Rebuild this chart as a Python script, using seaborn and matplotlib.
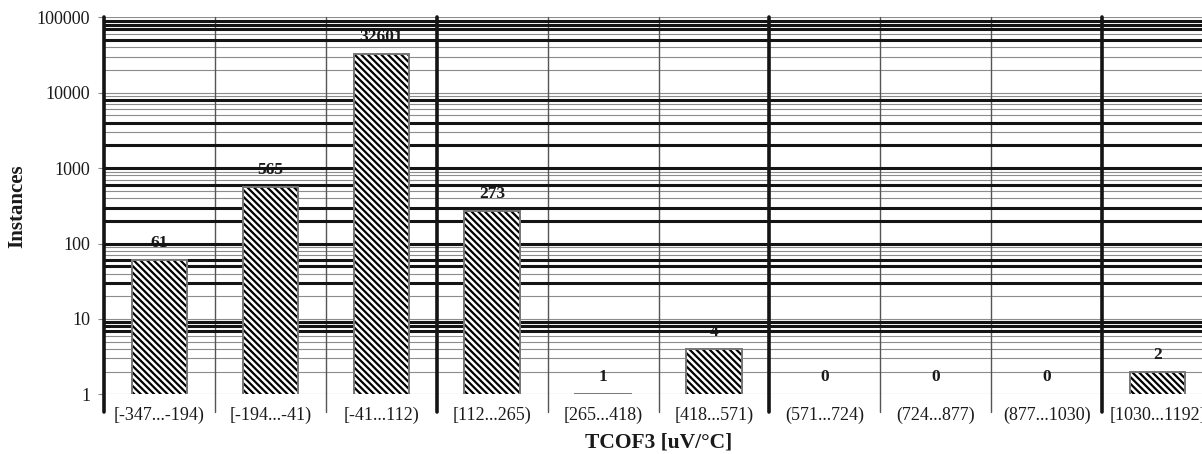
import numpy as np
import pandas as pd
import matplotlib
matplotlib.use("Agg")
import matplotlib.pyplot as plt
import seaborn as sns
from matplotlib.ticker import FixedLocator, FuncFormatter, LogLocator

# Histogram of TCOF3 values per temperature-coefficient bin
categories = ["[-347...-194)", "[-194...-41)", "[-41...112)", "[112...265)",
              "[265...418)", "[418...571)", "(571...724)", "(724...877)",
              "(877...1030)", "[1030...1192]"]
counts = [61, 565, 32601, 273, 1, 4, 0, 0, 0, 2]
y_ticks = [1, 10, 100, 1000, 10000, 100000]

# Emphasised horizontal rules and heavy category separators
heavy_levels = [7, 8, 9, 30, 50, 60, 100, 200, 300, 600, 1000, 2000, 4000,
                8000, 50000, 70000, 80000, 90000]
heavy_bounds = [0, 3, 6, 9]

sns.set_theme(style="white")
plt.rcParams["font.family"] = ["Liberation Serif", "DejaVu Serif"]
plt.rcParams["hatch.linewidth"] = 1.6
plt.rcParams["hatch.color"] = "black"

df = pd.DataFrame({"range": categories, "count": counts})

W, H = 1202, 454
fig = plt.figure(figsize=(W / 100, H / 100), dpi=100)
ax_left, ax_right, ax_top, ax_bottom = 104, 1213, 17.3, 394.3
ax = fig.add_axes([ax_left / W, (H - ax_bottom) / H,
                   (ax_right - ax_left) / W, (ax_bottom - ax_top) / H])

# hatched bodies
sns.barplot(data=df, x="range", y="count", order=categories, color="white",
            saturation=1, width=0.5, errorbar=None, edgecolor="black",
            linewidth=0, hatch="\\" * 5, zorder=3, ax=ax)
# grey outlines of the same bars
sns.barplot(data=df, x="range", y="count", order=categories, color="#767676",
            fill=False, width=0.5, errorbar=None, linewidth=1.4, zorder=3.5,
            ax=ax)

ax.set_yscale("log")
ax.set_ylim(1, 1e5)
ax.set_xlim(-0.5, len(categories) - 0.5)

# y axis ticks and light grid
ax.yaxis.set_major_locator(FixedLocator(y_ticks))
ax.yaxis.set_major_formatter(FuncFormatter(lambda v, p: f"{int(round(v))}"))
ax.yaxis.set_minor_locator(LogLocator(base=10, subs=np.arange(2, 10)))
ax.tick_params(axis="y", which="minor", length=0)
ax.tick_params(axis="y", which="major", left=True, length=4, width=0.8,
               color="#888888", pad=6, labelsize=13, labelcolor="#1a1a1a")
ax.tick_params(axis="x", which="major", length=0, pad=9, labelsize=13,
               labelcolor="#1a1a1a")
ax.set_axisbelow(True)
ax.grid(axis="y", which="both", color="#8c8c8c", lw=0.8, zorder=0.5)
ax.grid(axis="x", visible=False)

for lv in heavy_levels:
    ax.axhline(lv, color="#141414", lw=2.2, zorder=1.5)

# category separators, extending below the plotting area
drop = 18 / (ax_bottom - ax_top)
for i, b in enumerate(np.arange(-0.5, len(categories))):
    if i in heavy_bounds:
        ax.axvline(b, ymin=-drop, ymax=1, clip_on=False, color="#141414",
                   lw=2.6, zorder=1.4)
    else:
        ax.axvline(b, ymin=-drop, ymax=1, clip_on=False, color="#555555",
                   lw=1.0, zorder=1.4)

# value labels above each bar
for i, v in enumerate(counts):
    ax.annotate(str(v), xy=(i, max(v, 1)), xytext=(0, 17),
                textcoords="offset pixels", ha="center", va="center",
                fontsize=12.5, fontweight="bold", color="#1a1a1a",
                zorder=1.2, annotation_clip=False)

for s in ax.spines.values():
    s.set_visible(False)

ax.set_xlabel("TCOF3 [uV/°C]", fontsize=15.5, fontweight="bold",
              color="#1a1a1a")
ax.xaxis.label.set_va("center")
ax.xaxis.set_label_coords(0.5, -(443 - ax_bottom) / (ax_bottom - ax_top))
ax.set_ylabel("Instances", fontsize=15, fontweight="bold", color="#1a1a1a")
ax.yaxis.label.set_va("center")
ax.yaxis.set_label_coords((17 - ax_left) / (ax_right - ax_left), 0.5)

fig.savefig("out.png", dpi=100)
